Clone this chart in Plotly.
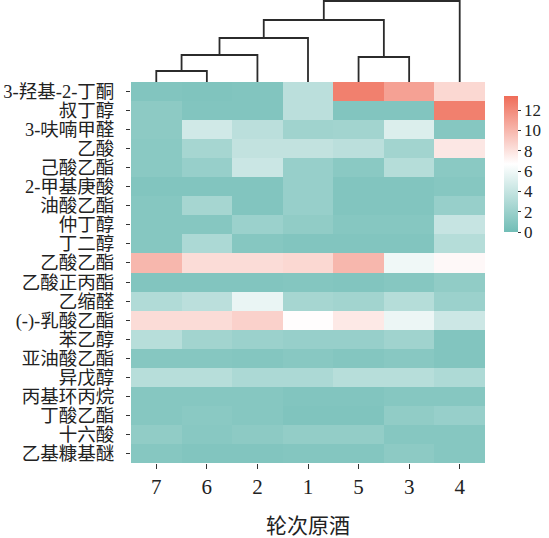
import plotly.graph_objects as go

# column order (as clustered) and compound names
samples = ["7", "6", "2", "1", "5", "3", "4"]
compounds = [
    "3-羟基-2-丁酮", "叔丁醇", "3-呋喃甲醛", "乙酸", "己酸乙酯", "2-甲基庚酸",
    "油酸乙酯", "仲丁醇", "丁二醇", "乙酸乙酯", "乙酸正丙酯", "乙缩醛",
    "(-)-乳酸乙酯", "苯乙醇", "亚油酸乙酯", "异戊醇", "丙基环丙烷", "丁酸乙酯",
    "十六酸", "乙基糠基醚",
]

# one row per compound, columns in the order of `samples`
values = [
    [0.8, 0.7, 0.8, 3.5, 12.5, 11.0, 8.5],
    [1.3, 0.8, 0.8, 3.5, 0.8, 0.8, 12.5],
    [1.3, 4.5, 3.5, 2.2, 2.3, 5.0, 1.0],
    [1.2, 2.5, 3.8, 3.8, 3.5, 2.3, 7.8],
    [1.2, 1.8, 4.2, 1.8, 1.2, 3.2, 1.2],
    [0.8, 0.8, 0.8, 1.8, 0.8, 0.8, 1.0],
    [1.0, 2.5, 0.8, 1.8, 0.8, 0.8, 1.8],
    [1.0, 1.0, 2.0, 1.5, 1.0, 1.0, 4.0],
    [1.0, 2.8, 1.0, 0.8, 0.8, 0.8, 3.2],
    [10.0, 8.3, 8.3, 8.5, 10.0, 6.0, 7.0],
    [0.8, 0.8, 0.8, 0.9, 0.8, 1.0, 1.5],
    [3.0, 3.5, 5.7, 2.5, 2.3, 3.2, 2.0],
    [8.3, 8.3, 8.8, 6.8, 7.7, 5.8, 4.3],
    [3.3, 2.3, 2.0, 1.8, 1.8, 2.2, 0.8],
    [1.0, 1.0, 0.9, 1.1, 0.9, 1.1, 0.8],
    [3.3, 3.3, 2.8, 2.8, 3.3, 3.3, 2.9],
    [1.0, 1.0, 1.0, 0.8, 0.8, 1.0, 1.0],
    [1.0, 1.2, 1.0, 0.7, 0.7, 1.5, 1.8],
    [1.5, 1.1, 1.3, 1.6, 1.6, 1.0, 1.0],
    [1.0, 0.8, 0.8, 0.9, 0.9, 1.3, 1.0],
]

# column dendrogram: (left cluster, right cluster, height); leaves are 0..6,
# each merge creates cluster 7, 8, ...
merges = [
    (0, 1, 11),
    (7, 2, 27),
    (8, 3, 44),
    (4, 5, 25),
    (9, 10, 62),
    (11, 6, 81),
]

colorbar_ticks = [0, 2, 4, 6, 8, 10, 12]

FONT = "Liberation Serif, Times New Roman, Noto Sans CJK SC, serif"

x_pos = list(range(len(samples)))
y_pos = list(range(len(compounds)))

fig = go.Figure()

fig.add_trace(go.Heatmap(
    z=values,
    x=x_pos,
    y=y_pos,
    zmin=0,
    zmax=13.4,
    colorscale=[[0, "rgb(113,189,182)"], [0.5, "rgb(255,255,255)"], [1, "rgb(239,108,88)"]],
    colorbar=dict(
        x=504 / 549, xanchor="left", xpad=0,
        y=(538 - 164) / 538, yanchor="middle", ypad=0,
        thickness=14, lenmode="pixels", len=136,
        outlinewidth=0,
        tickvals=colorbar_ticks,
        ticks="outside", ticklen=3, tickcolor="#333",
        tickfont=dict(family=FONT, size=17, color="#222"),
    ),
    xaxis="x", yaxis="y",
))

# dendrogram segments
pos = {i: (float(i), 0.0) for i in x_pos}
dx, dy = [], []
for k, (a, b, h) in enumerate(merges):
    xa, ha = pos[a]
    xb, hb = pos[b]
    dx += [xa, xa, xb, xb, None]
    dy += [ha, h, h, hb, None]
    pos[len(samples) + k] = ((xa + xb) / 2, h)

fig.add_trace(go.Scatter(
    x=dx, y=dy, mode="lines",
    line=dict(color="#2b2b2b", width=1.8),
    hoverinfo="skip", showlegend=False,
    xaxis="x2", yaxis="y2",
))

x_dom = [131 / 549, 485 / 549]
y_dom = [(538 - 463) / 538, (538 - 82) / 538]

fig.update_layout(
    width=549, height=538,
    margin=dict(l=0, r=0, t=0, b=0),
    paper_bgcolor="white", plot_bgcolor="white",
    font=dict(family=FONT, color="#222"),
    showlegend=False,
    xaxis=dict(
        domain=x_dom, range=[-0.5, 6.5], automargin=False,
        tickvals=x_pos, ticktext=samples,
        ticks="outside", ticklen=5, tickcolor="#333",
        tickfont=dict(family=FONT, size=21, color="#222"),
        showgrid=False, zeroline=False, showline=False,
        title=dict(text="轮次原酒", font=dict(family=FONT, size=21, color="#222"), standoff=20),
    ),
    yaxis=dict(
        domain=y_dom, range=[len(compounds) - 0.5, -0.5], automargin=False,
        tickvals=y_pos, ticktext=compounds,
        ticks="outside", ticklen=4, tickcolor="#333",
        tickfont=dict(family=FONT, size=18.5, color="#222"),
        ticklabelstandoff=8,
        showgrid=False, zeroline=False, showline=False,
    ),
    xaxis2=dict(
        domain=x_dom, range=[-0.5, 6.5], anchor="y2", automargin=False,
        visible=False, showgrid=False, zeroline=False,
    ),
    yaxis2=dict(
        domain=[y_dom[1], 1.0], range=[0, 82], anchor="x2", automargin=False,
        visible=False, showgrid=False, zeroline=False,
    ),
)

# the page's default body margin would shift the figure by 8px
fig.write_html(
    "out.html",
    config={"displayModeBar": False},
    post_script="document.body.style.margin = '0';",
)
